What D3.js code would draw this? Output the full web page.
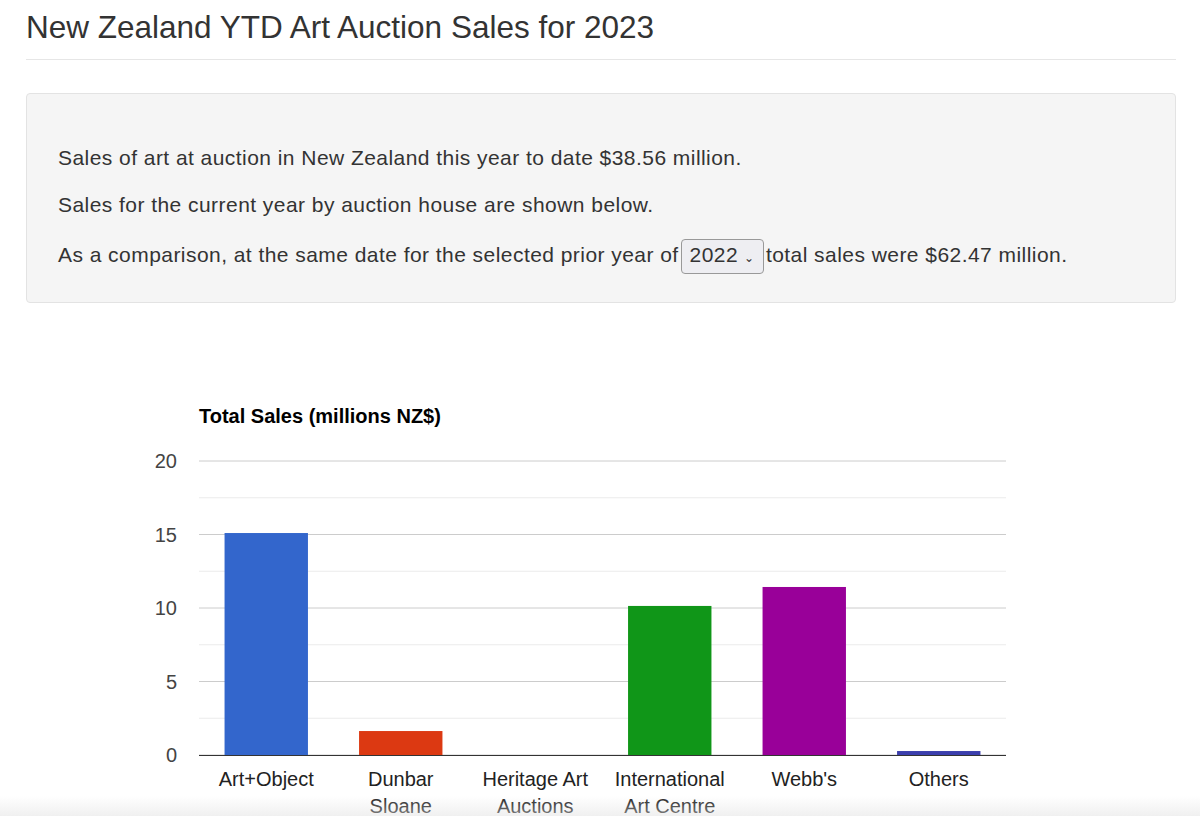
<!DOCTYPE html>
<html><head><meta charset="utf-8">
<script src="https://cdn.jsdelivr.net/npm/d3@7"></script>
<style>
body{margin:0;width:1200px;height:816px;overflow:hidden;background:#fff;font-family:"Liberation Sans",Arial,sans-serif;color:#333;position:relative}
h1{position:absolute;left:26px;top:9px;margin:0;font-weight:400;font-size:31.5px;color:#333}
.hr{position:absolute;left:26px;top:59px;width:1150px;border-top:1px solid #e6e6e6}
.well{position:absolute;left:26px;top:93px;width:1148px;height:208px;background:#f5f5f5;border:1px solid #e3e3e3;border-radius:4px}
.well p{position:absolute;left:31px;margin:0;font-size:21px;letter-spacing:0.45px;color:#333;white-space:nowrap}
.sel{display:inline-block;border:1px solid #999;border-radius:4px;padding:1px 8px;line-height:28px;margin:0 2px;background:#eeeef2}
#fade{position:absolute;left:0;top:796px;width:1200px;height:20px;background:linear-gradient(rgba(240,240,240,0),rgba(225,225,225,0.5))}
</style></head><body>
<h1>New Zealand YTD Art Auction Sales for 2023</h1>
<div class="hr"></div>
<div class="well">
<p style="top:52px">Sales of art at auction in New Zealand this year to date $38.56 million.</p>
<p style="top:99px">Sales for the current year by auction house are shown below.</p>
<p style="top:145px">As a comparison, at the same date for the selected prior year of<span class="sel">2022 <span style="font-size:12px">&#8964;</span></span>total sales were $62.47 million.</p>
</div>
<svg id="c" width="1200" height="816" style="position:absolute;left:0;top:0"></svg>
<div id="fade"></div>
<script>
const categories=[["Art+Object"],["Dunbar","Sloane"],["Heritage Art","Auctions"],["International","Art Centre"],["Webb's"],["Others"]];
const values=[15.1,1.63,0,10.14,11.43,0.27];
const colors=["#3366cc","#dc3912","#ff9900","#109618","#990099","#3b3eac"];
const yTicks=[0,5,10,15,20];
const svg=d3.select("#c");
const x=d3.scaleBand().domain(d3.range(categories.length)).range([199,1006]).paddingInner(0.38).paddingOuter(0.19);
const y=d3.scaleLinear().domain([0,20]).range([755,461]);
const g=svg.append("g");
d3.range(0,20.01,2.5).forEach(v=>{
 g.append("line").attr("x1",199).attr("x2",1006).attr("y1",y(v)).attr("y2",y(v))
  .attr("stroke",v%5===0?"#ccc":"#ebebeb").attr("stroke-width",1);
});
g.selectAll("text.yt").data(yTicks).join("text").attr("x",177).attr("y",d=>y(d)+7).attr("text-anchor","end")
 .attr("font-size",20).attr("fill","#444").text(d=>d);
g.selectAll("rect").data(values).join("rect").attr("x",(d,i)=>x(i)).attr("width",x.bandwidth())
 .attr("y",d=>y(d)).attr("height",d=>y(0)-y(d)).attr("fill",(d,i)=>colors[i]);
g.append("line").attr("x1",199).attr("x2",1006).attr("y1",755.5).attr("y2",755.5).attr("stroke","#333");
categories.forEach((c,i)=>{
 const t=g.append("text").attr("text-anchor","middle").attr("font-size",20).attr("fill","#222");
 c.forEach((l,j)=>t.append("tspan").attr("x",x(i)+x.bandwidth()/2).attr("y",786+j*27).text(l));
});
g.append("text").attr("x",199).attr("y",423).attr("font-size",20).attr("font-weight","bold").attr("fill","#000").text("Total Sales (millions NZ$)");
</script></body></html>
